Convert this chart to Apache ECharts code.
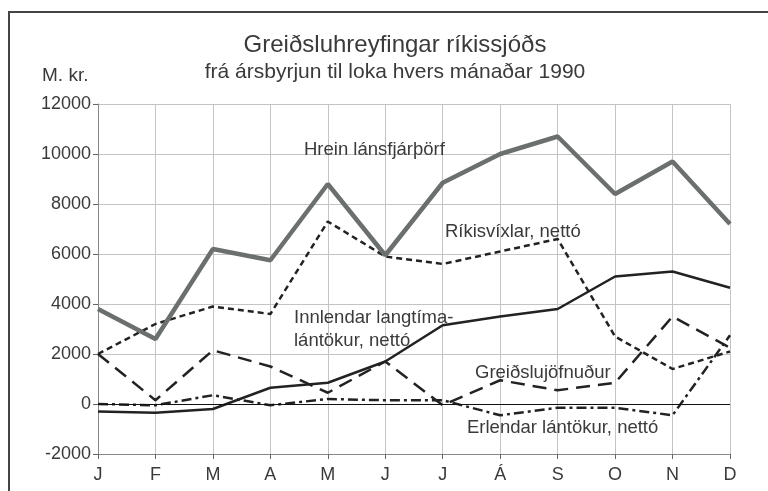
<!DOCTYPE html>
<html>
<head>
<meta charset="utf-8">
<script src="https://cdn.jsdelivr.net/npm/echarts@6/dist/echarts.min.js"></script>
<style>
  html, body { margin: 0; padding: 0; background: #fff; }
  #chart { width: 768px; height: 491px; }
</style>
</head>
<body>
<div id="chart"></div>
<script>
const months = ["J", "F", "M", "A", "M", "J", "J", "Á", "S", "O", "N", "D"];
const yTicks = [-2000, 0, 2000, 4000, 6000, 8000, 10000, 12000];

// Hrein lánsfjárþörf
const hrein = [3800, 2600, 6200, 5750, 8800, 5950, 8850, 10000, 10700, 8400, 9700, 7200];
// Ríkisvíxlar, nettó
const rikisvixlar = [2000, 3200, 3900, 3600, 7300, 5900, 5600, 6100, 6600, 2700, 1400, 2100];
// Innlendar langtímalántökur, nettó
const innlendar = [-300, -350, -200, 650, 850, 1700, 3150, 3500, 3800, 5100, 5300, 4650];
// Greiðslujöfnuður
const greidslu = [2000, 150, 2150, 1500, 450, 1700, -50, 950, 550, 850, 3500, 2250];
// Erlendar lántökur, nettó
const erlendar = [0, -50, 350, -50, 200, 150, 150, -450, -150, -150, -450, 2750];

const chart = echarts.init(document.getElementById("chart"), null, { renderer: "canvas" });

const font = "Liberation Sans";
const txt = "#3a3a3a";

function lineSeries(name, data, color, width, dash, z) {
  return {
    name: name,
    type: "line",
    data: data,
    symbol: "none",
    z: z,
    lineStyle: { color: color, width: width, type: dash },
  };
}

// free text placed by its left edge and vertical middle
function label(text, x, y, size, align) {
  return {
    type: "text",
    x: x,
    y: y,
    z: 100,
    style: {
      text: text,
      fill: txt,
      font: size + "px " + font,
      align: align || "left",
      verticalAlign: "middle",
    },
  };
}

const option = {
  animation: false,
  backgroundColor: "#fff",
  grid: { left: 98, right: 38, top: 104, bottom: 37 },
  xAxis: {
    type: "category",
    data: months,
    boundaryGap: false,
    axisLine: { onZero: false, lineStyle: { color: "#888", width: 1 } },
    axisTick: { show: true, length: 5, lineStyle: { color: "#666" } },
    axisLabel: { color: txt, fontFamily: font, fontSize: 18, margin: 12 },
    splitLine: { show: true, lineStyle: { color: "#c4c4c4", width: 1 } },
  },
  yAxis: {
    type: "value",
    min: yTicks[0],
    max: yTicks[yTicks.length - 1],
    interval: 2000,
    axisLine: { show: true, lineStyle: { color: "#888", width: 1 } },
    axisTick: { show: true, length: 5, lineStyle: { color: "#666" } },
    axisLabel: { color: txt, fontFamily: font, fontSize: 18, margin: 7, formatter: (v) => String(v) },
    splitLine: { show: true, lineStyle: { color: "#c4c4c4", width: 1 } },
  },
  graphic: [
    { type: "line", shape: { x1: 8, y1: 12, x2: 768, y2: 12 }, style: { stroke: "#444", lineWidth: 2 } },
    { type: "line", shape: { x1: 9, y1: 12, x2: 9, y2: 491 }, style: { stroke: "#444", lineWidth: 2 } },
    label("Greiðsluhreyfingar ríkissjóðs", 395, 45, 24, "center"),
    label("frá ársbyrjun til loka hvers mánaðar 1990", 395, 72, 21, "center"),
    label("M. kr.", 42, 76, 19),
    label("Hrein lánsfjárþörf", 304, 150, 18.5),
    label("Ríkisvíxlar, nettó", 445, 232, 18.5),
    label("Innlendar langtíma-", 294, 318, 18.5),
    label("lántökur, nettó", 294, 341, 18.5),
    label("Greiðslujöfnuður", 475, 373, 18.5),
    label("Erlendar lántökur, nettó", 467, 428, 18.5),
  ],
  series: [
    Object.assign(lineSeries("Erlendar lántökur, nettó", erlendar, "#222", 2.5, [10, 4, 3, 4], 2), {
      markLine: {
        silent: true,
        symbol: "none",
        label: { show: false },
        lineStyle: { color: "#111", width: 1, type: "solid" },
        data: [{ yAxis: 0 }],
      },
    }),
    lineSeries("Greiðslujöfnuður", greidslu, "#222", 2.5, [14, 8], 3),
    lineSeries("Innlendar langtímalántökur, nettó", innlendar, "#222", 2.5, "solid", 4),
    lineSeries("Ríkisvíxlar, nettó", rikisvixlar, "#222", 2.5, [6, 4], 5),
    lineSeries("Hrein lánsfjárþörf", hrein, "#6b706e", 4.5, "solid", 6),
  ],
};

chart.setOption(option);
</script>
</body>
</html>
